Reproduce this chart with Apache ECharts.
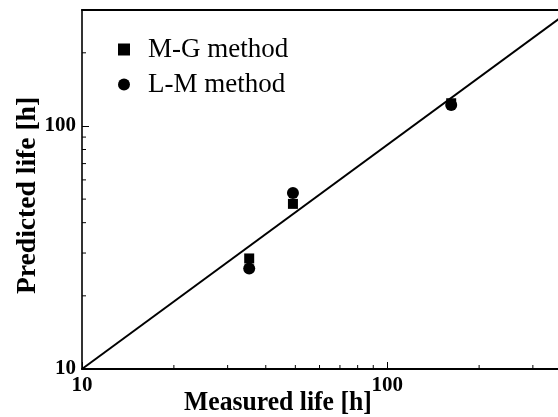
<!DOCTYPE html>
<html>
<head>
<meta charset="utf-8">
<script src="https://cdn.jsdelivr.net/npm/echarts@6/dist/echarts.min.js"></script>
<style>html,body{margin:0;padding:0;background:#fff}#c{width:558px;height:417px}</style>
</head>
<body>
<div id="c"></div>
<script>
// Data
const measuredLife = [35.3, 49.1, 162];
const mgPredicted = [28.5, 47.8, 124];
const lmPredicted = [25.9, 53.0, 122];
const diagonalX = [10, 400];
const diagonalY = [10, 300];
const xMinorTicks = [20, 30, 40, 50, 60, 70, 80, 90, 200, 300];
const yMinorTicks = [20, 30, 40, 50, 60, 70, 80, 90, 200];
const xRange = [10, 400];
const yRange = [10, 300];

const font = "'Liberation Serif', 'Times New Roman', serif";
const chart = echarts.init(document.getElementById('c'));

function tickSeries(values, axis) {
  return {
    type: 'custom',
    silent: true,
    clip: false,
    data: values.map(v => axis === 'x' ? [v, yRange[0]] : [xRange[0], v]),
    renderItem: function (params, api) {
      const p = api.coord([api.value(0), api.value(1)]);
      const shape = axis === 'x'
        ? { x1: p[0], y1: p[1], x2: p[0], y2: p[1] - 4 }
        : { x1: p[0], y1: p[1], x2: p[0] + 4, y2: p[1] };
      return { type: 'line', shape: shape, style: { stroke: '#000', lineWidth: 1 } };
    }
  };
}

chart.setOption({
  animation: false,
  backgroundColor: '#fff',
  grid: { left: 82, top: 10, width: 489, height: 359, outerBoundsMode: 'none', containLabel: false },
  legend: {
    orient: 'vertical',
    left: 113,
    top: 31,
    itemWidth: 12,
    itemHeight: 12,
    itemGap: 8,
    data: ['M-G method', 'L-M method'],
    textStyle: { fontFamily: font, fontSize: 27, color: '#000', padding: [0, 0, 0, 13] }
  },
  xAxis: [{
    type: 'log', logBase: 10, min: xRange[0], max: xRange[1],
    axisLine: { lineStyle: { color: '#000', width: 2 } },
    axisTick: { inside: true, length: 7, lineStyle: { color: '#000', width: 1 } },
    axisLabel: { fontFamily: font, fontWeight: 'bold', fontSize: 21, color: '#000', margin: 6,
      formatter: v => (v <= 100 ? String(v) : '') },
    splitLine: { show: false }
  }, {
    type: 'log', logBase: 10, min: xRange[0], max: xRange[1], position: 'top',
    axisLine: { lineStyle: { color: '#000', width: 2 } },
    axisTick: { show: false }, axisLabel: { show: false }, splitLine: { show: false }
  }],
  yAxis: {
    type: 'log', logBase: 10, min: yRange[0], max: yRange[1],
    axisLine: { lineStyle: { color: '#333', width: 2 } },
    axisTick: { inside: true, length: 7, lineStyle: { color: '#000', width: 1 } },
    axisLabel: { fontFamily: font, fontWeight: 'bold', fontSize: 21, color: '#000', margin: 6,
      formatter: v => (v <= 100 ? String(v) : '') },
    splitLine: { show: false }
  },
  graphic: [{
    type: 'text', left: 184, top: 389, scaleX: 0.917,
    style: { text: 'Measured life [h]', font: "bold 28px 'Liberation Serif', serif", fill: '#000' }
  }, {
    type: 'text', x: 14, y: 294, rotation: Math.PI / 2, scaleX: 0.985,
    style: { text: 'Predicted life [h]', font: "bold 28px 'Liberation Serif', serif", fill: '#000' }
  }],
  series: [{
    type: 'line', silent: true, symbol: 'none',
    data: diagonalX.map((x, i) => [x, diagonalY[i]]),
    lineStyle: { color: '#000', width: 2 }
  }, {
    name: 'M-G method', type: 'scatter', symbol: 'rect', symbolSize: 10,
    itemStyle: { color: '#000', opacity: 1 },
    data: measuredLife.map((x, i) => [x, mgPredicted[i]])
  }, {
    name: 'L-M method', type: 'scatter', symbol: 'circle', symbolSize: 12,
    itemStyle: { color: '#000', opacity: 1 },
    data: measuredLife.map((x, i) => [x, lmPredicted[i]])
  },
  tickSeries(xMinorTicks, 'x'),
  tickSeries(yMinorTicks, 'y')
  ]
});
</script>
</body>
</html>
